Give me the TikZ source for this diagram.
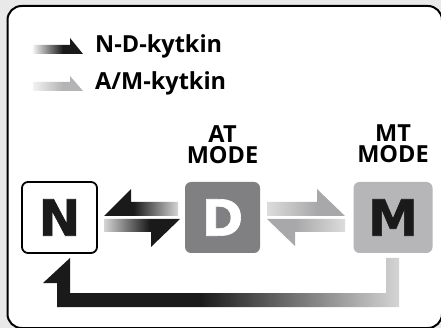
\documentclass[tikz,border=0pt]{standalone}
\usepackage{fontspec}
\setmainfont{Open Sans}
\newfontfamily\heavy[FakeBold=1.2]{DejaVu Sans Bold}
\definecolor{bg}{RGB}{233,233,234}
\definecolor{ink}{RGB}{26,26,26}
\definecolor{dbox}{RGB}{128,128,130}
\definecolor{mbox}{RGB}{182,182,184}
\definecolor{lite}{RGB}{212,212,212}
\definecolor{lite2}{RGB}{220,220,220}
\definecolor{pale}{RGB}{242,242,242}
\definecolor{mid}{RGB}{168,168,170}
\definecolor{legmid}{RGB}{180,180,182}
\pgfdeclarehorizontalshading{darkleft}{100bp}{color(0bp)=(ink); color(45bp)=(ink); color(75bp)=(lite); color(100bp)=(lite)}
\pgfdeclarehorizontalshading{darkright}{100bp}{color(0bp)=(lite); color(25bp)=(lite); color(55bp)=(ink); color(100bp)=(ink)}
\pgfdeclarehorizontalshading{grayright}{100bp}{color(0bp)=(lite2); color(25bp)=(lite2); color(57bp)=(mid); color(100bp)=(mid)}
\pgfdeclarehorizontalshading{grayleft}{100bp}{color(0bp)=(mid); color(43bp)=(mid); color(75bp)=(lite2); color(100bp)=(lite2)}
\pgfdeclarehorizontalshading{legdark}{100bp}{color(0bp)=(pale); color(25bp)=(pale); color(55bp)=(ink); color(100bp)=(ink)}
\pgfdeclarehorizontalshading{leggray}{100bp}{color(0bp)=(pale); color(25bp)=(pale); color(55bp)=(legmid); color(100bp)=(legmid)}
\pgfdeclarehorizontalshading{retshade}{100bp}{color(0bp)=(ink); color(47bp)=(ink); color(75bp)=(lite); color(100bp)=(lite)}
\tikzset{
  modebox/.style={minimum height=71pt, inner sep=0pt, rounded corners=6pt,
    font=\heavy\fontsize{50}{50}\selectfont},
  lbl/.style={inner sep=0pt, font=\bfseries\fontsize{23.5}{21}\selectfont},
}
\begin{document}
\begin{tikzpicture}[x=1pt,y=-1pt]
\useasboundingbox (0,0) rectangle (441,328);
\fill[bg] (0,0) rectangle (441,328);
\draw[line width=2pt, rounded corners=14pt, fill=white] (7.5,6) rectangle (442,328);

% legend
\shade[shading=legdark] (33,45) -- (70,45) -- (70,38) -- (83,54) -- (33,54) -- cycle;
\shade[shading=leggray] (33,82) -- (70,82) -- (70,76) -- (83,91) -- (33,91) -- cycle;
\node[lbl, anchor=base west] (nd) at (95,53) {N-D-kytkin};
\node[lbl, anchor=base west] (am) at (95,90) {A/M-kytkin};

% mode labels
\node[lbl, align=center, anchor=north] (at) at (222.5,125) {AT\\MODE};
\node[lbl, align=center, anchor=north] (mt) at (393,125) {MT\\MODE};

% boxes
\node[modebox, minimum width=75pt, draw=black, line width=1.8pt, fill=white, text=ink] (N) at (59.5,217.5) {N};
\node[modebox, minimum width=75pt, fill=dbox, text=white] (D) at (222.5,217.5) {D};
\node[modebox, minimum width=79pt, fill=mbox, text=ink] (M) at (393,217.5) {M};

% N <-> D arrows
\shade[shading=darkleft] (178,202) -- (131,202) -- (131,189) -- (104,216) -- (178,216) -- cycle;
\shade[shading=darkright] (104,219) -- (180,219) -- (151,247) -- (151,232) -- (104,232) -- cycle;
% D <-> M arrows
\shade[shading=grayright] (267,202) -- (317,202) -- (317,189) -- (345,216) -- (267,216) -- cycle;
\shade[shading=grayleft] (345,219) -- (267,219) -- (295,246) -- (295,232) -- (345,232) -- cycle;

% return arrow M -> N
\shade[shading=retshade] (70,258) -- (70,293) -- (386,293) -- (386,258) -- (399,258) -- (399,307) -- (57,307) -- (57,283) -- (43,283) -- cycle;
\end{tikzpicture}
\end{document}
